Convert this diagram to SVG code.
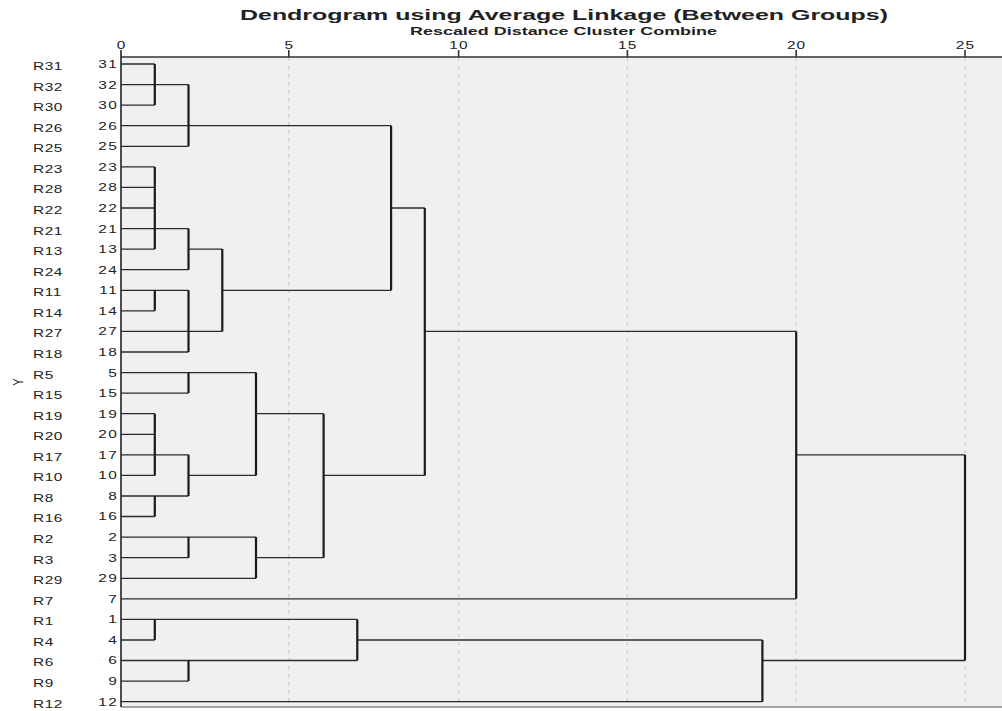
<svg xmlns="http://www.w3.org/2000/svg" width="1002" height="711" viewBox="0 0 1002 711">
<style>
.t{font-family:"Liberation Sans",Arial,sans-serif;fill:#222}
.lab{font-size:11px;letter-spacing:0.4px}
.num{font-size:11px;letter-spacing:1px;text-anchor:end}
.tick{font-size:11px;letter-spacing:0.8px;text-anchor:middle}
.h{stroke:#2a2a2a;stroke-width:1.3;fill:none}
.v{stroke:#1a1a1a;stroke-width:2.2;fill:none}
.grid{stroke:#c4c4c4;stroke-width:1;stroke-dasharray:3 5}
</style>
<rect x="0" y="0" width="1002" height="711" fill="#ffffff"/>
<rect x="121" y="57" width="881" height="650" fill="#f0f0f0"/>
<g id="grid">
<line class="grid" x1="288.8" y1="58" x2="288.8" y2="707"/>
<line class="grid" x1="458.6" y1="58" x2="458.6" y2="707"/>
<line class="grid" x1="627.4" y1="58" x2="627.4" y2="707"/>
<line class="grid" x1="796.2" y1="58" x2="796.2" y2="707"/>
<line class="grid" x1="965" y1="58" x2="965" y2="707"/>
</g>
<g id="axis">
<line x1="121" y1="57" x2="1002" y2="57" stroke="#333" stroke-width="1.3"/>
<line x1="121" y1="707" x2="1002" y2="707" stroke="#888" stroke-width="1.3"/>
<line x1="121" y1="50" x2="121" y2="707" stroke="#222" stroke-width="1.6"/>
<g stroke="#333" stroke-width="1.6">
<line x1="288.8" y1="50" x2="288.8" y2="57"/>
<line x1="458.6" y1="50" x2="458.6" y2="57"/>
<line x1="627.4" y1="50" x2="627.4" y2="57"/>
<line x1="796.2" y1="50" x2="796.2" y2="57"/>
<line x1="965" y1="50" x2="965" y2="57"/>
</g>
<g transform="scale(1.4,1)">
<text class="t tick" x="86.8" y="49">0</text>
<text class="t tick" x="206.6" y="49">5</text>
<text class="t tick" x="327.9" y="49">10</text>
<text class="t tick" x="448.4" y="49">15</text>
<text class="t tick" x="569" y="49">20</text>
<text class="t tick" x="689.6" y="49">25</text>
</g>
</g>
<text class="t" x="240" y="20" font-size="15.5" font-weight="bold" fill="#111" textLength="648" lengthAdjust="spacingAndGlyphs">Dendrogram using Average Linkage (Between Groups)</text>
<text class="t" x="410" y="34.5" font-size="10" font-weight="bold" fill="#111" textLength="307" lengthAdjust="spacingAndGlyphs">Rescaled Distance Cluster Combine</text>
<text class="t" x="0" y="4" font-size="11" text-anchor="middle" transform="translate(17.5,382) scale(1.4,1) rotate(-90)">Y</text>
<g id="leaves" transform="scale(1.4,1)">
<g id="leaf-31"><text class="t lab" x="23.6" y="70">R31</text><text class="t num" x="84.4" y="68">31</text></g>
<g id="leaf-32"><text class="t lab" x="23.6" y="90.6">R32</text><text class="t num" x="84.4" y="88.6">32</text></g>
<g id="leaf-30"><text class="t lab" x="23.6" y="111.1">R30</text><text class="t num" x="84.4" y="109.1">30</text></g>
<g id="leaf-26"><text class="t lab" x="23.6" y="131.7">R26</text><text class="t num" x="84.4" y="129.7">26</text></g>
<g id="leaf-25"><text class="t lab" x="23.6" y="152.3">R25</text><text class="t num" x="84.4" y="150.3">25</text></g>
<g id="leaf-23"><text class="t lab" x="23.6" y="172.9">R23</text><text class="t num" x="84.4" y="170.9">23</text></g>
<g id="leaf-28"><text class="t lab" x="23.6" y="193.4">R28</text><text class="t num" x="84.4" y="191.4">28</text></g>
<g id="leaf-22"><text class="t lab" x="23.6" y="214">R22</text><text class="t num" x="84.4" y="212">22</text></g>
<g id="leaf-21"><text class="t lab" x="23.6" y="234.6">R21</text><text class="t num" x="84.4" y="232.6">21</text></g>
<g id="leaf-13"><text class="t lab" x="23.6" y="255.1">R13</text><text class="t num" x="84.4" y="253.1">13</text></g>
<g id="leaf-24"><text class="t lab" x="23.6" y="275.7">R24</text><text class="t num" x="84.4" y="273.7">24</text></g>
<g id="leaf-11"><text class="t lab" x="23.6" y="296.3">R11</text><text class="t num" x="84.4" y="294.3">11</text></g>
<g id="leaf-14"><text class="t lab" x="23.6" y="316.8">R14</text><text class="t num" x="84.4" y="314.8">14</text></g>
<g id="leaf-27"><text class="t lab" x="23.6" y="337.4">R27</text><text class="t num" x="84.4" y="335.4">27</text></g>
<g id="leaf-18"><text class="t lab" x="23.6" y="358">R18</text><text class="t num" x="84.4" y="356">18</text></g>
<g id="leaf-5"><text class="t lab" x="23.6" y="378.6">R5</text><text class="t num" x="84.4" y="376.6">5</text></g>
<g id="leaf-15"><text class="t lab" x="23.6" y="399.1">R15</text><text class="t num" x="84.4" y="397.1">15</text></g>
<g id="leaf-19"><text class="t lab" x="23.6" y="419.7">R19</text><text class="t num" x="84.4" y="417.7">19</text></g>
<g id="leaf-20"><text class="t lab" x="23.6" y="440.3">R20</text><text class="t num" x="84.4" y="438.3">20</text></g>
<g id="leaf-17"><text class="t lab" x="23.6" y="460.8">R17</text><text class="t num" x="84.4" y="458.8">17</text></g>
<g id="leaf-10"><text class="t lab" x="23.6" y="481.4">R10</text><text class="t num" x="84.4" y="479.4">10</text></g>
<g id="leaf-8"><text class="t lab" x="23.6" y="502">R8</text><text class="t num" x="84.4" y="500">8</text></g>
<g id="leaf-16"><text class="t lab" x="23.6" y="522.5">R16</text><text class="t num" x="84.4" y="520.5">16</text></g>
<g id="leaf-2"><text class="t lab" x="23.6" y="543.1">R2</text><text class="t num" x="84.4" y="541.1">2</text></g>
<g id="leaf-3"><text class="t lab" x="23.6" y="563.7">R3</text><text class="t num" x="84.4" y="561.7">3</text></g>
<g id="leaf-29"><text class="t lab" x="23.6" y="584.3">R29</text><text class="t num" x="84.4" y="582.3">29</text></g>
<g id="leaf-7"><text class="t lab" x="23.6" y="604.8">R7</text><text class="t num" x="84.4" y="602.8">7</text></g>
<g id="leaf-1"><text class="t lab" x="23.6" y="625.4">R1</text><text class="t num" x="84.4" y="623.4">1</text></g>
<g id="leaf-4"><text class="t lab" x="23.6" y="646">R4</text><text class="t num" x="84.4" y="644">4</text></g>
<g id="leaf-6"><text class="t lab" x="23.6" y="666.5">R6</text><text class="t num" x="84.4" y="664.5">6</text></g>
<g id="leaf-9"><text class="t lab" x="23.6" y="687.1">R9</text><text class="t num" x="84.4" y="685.1">9</text></g>
<g id="leaf-12"><text class="t lab" x="23.6" y="707.7">R12</text><text class="t num" x="84.4" y="705.7">12</text></g>
</g>
<g id="connectors">
<path class="h" d="M121 64H154.8 M121 84.6H188.5 M121 105.1H154.8 M121 125.7H391.1 M121 146.3H188.5
M121 166.9H154.8 M121 187.4H154.8 M121 208H154.8 M391.1 208H424.8 M121 228.6H188.5
M121 249.1H154.8 M188.5 249.1H222.3 M121 269.7H188.5 M121 290.3H188.5 M222.3 290.3H391.1
M121 310.8H154.8 M121 331.4H222.3 M424.8 331.4H796.2 M121 352H188.5
M121 372.6H256 M121 393.1H188.5 M121 413.7H154.8 M256 413.7H323.6 M121 434.3H154.8
M121 454.8H188.5 M796.2 454.8H965 M121 475.4H154.8 M188.5 475.4H256 M323.6 475.4H424.8
M121 496H188.5 M121 516.5H154.8 M121 537.1H256 M121 557.7H188.5 M256 557.7H323.6
M121 578.3H256 M121 598.8H796.2 M121 619.4H357.3 M121 640H154.8 M357.3 640H762.4
M121 660.5H357.3 M762.4 660.5H965 M121 681.1H188.5 M121 701.7H762.4"/>
<path class="v" d="M154.8 64V105.1 M154.8 166.9V249.1 M154.8 290.3V310.8 M154.8 413.7V475.4 M154.8 496V516.5 M154.8 619.4V640
M188.5 84.6V146.3 M188.5 228.6V269.7 M188.5 290.3V352 M188.5 372.6V393.1 M188.5 454.8V496 M188.5 537.1V557.7 M188.5 660.5V681.1
M222.3 249.1V331.4 M256 372.6V475.4 M256 537.1V578.3 M323.6 413.7V557.7 M357.3 619.4V660.5
M391.1 125.7V290.3 M424.8 208V475.4 M762.4 640V701.7 M796.2 331.4V598.8 M965 454.8V660.5"/>
</g>
</svg>
